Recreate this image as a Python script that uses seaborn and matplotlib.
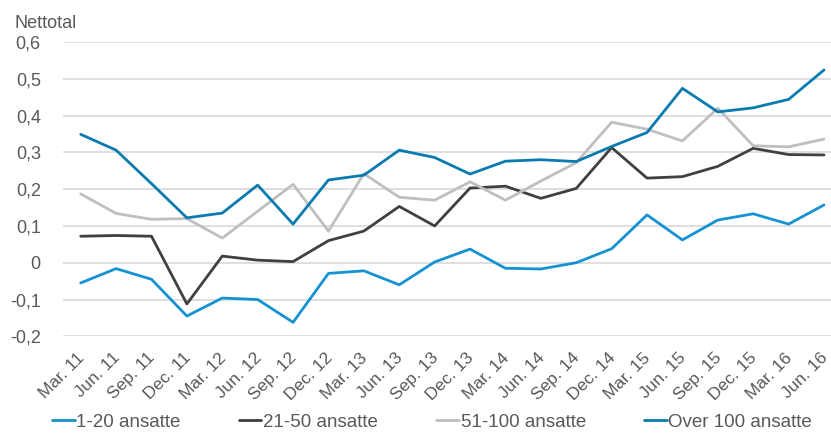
import matplotlib
matplotlib.use("Agg")
import matplotlib.pyplot as plt
import matplotlib.transforms as mtransforms
import seaborn as sns
import pandas as pd

quarters = ["Mar. 11", "Jun. 11", "Sep. 11", "Dec. 11",
            "Mar. 12", "Jun. 12", "Sep. 12", "Dec. 12",
            "Mar. 13", "Jun. 13", "Sep. 13", "Dec. 13",
            "Mar. 14", "Jun. 14", "Sep. 14", "Dec. 14",
            "Mar. 15", "Jun. 15", "Sep. 15", "Dec. 15",
            "Mar. 16", "Jun. 16"]

ansatte_1_20 = [-0.055, -0.016, -0.045, -0.145, -0.096, -0.100, -0.162, -0.029,
                -0.022, -0.060, 0.002, 0.037, -0.015, -0.017, 0.000, 0.038,
                0.130, 0.062, 0.116, 0.133, 0.105, 0.157]
ansatte_21_50 = [0.072, 0.074, 0.072, -0.112, 0.018, 0.007, 0.003, 0.060,
                 0.086, 0.153, 0.100, 0.203, 0.208, 0.175, 0.202, 0.313,
                 0.230, 0.234, 0.262, 0.311, 0.294, 0.293]
ansatte_51_100 = [0.187, 0.134, 0.118, 0.120, 0.067, 0.140, 0.213, 0.086,
                  0.242, 0.178, 0.170, 0.220, 0.170, 0.222, 0.272, 0.382,
                  0.363, 0.331, 0.420, 0.318, 0.315, 0.336]
ansatte_over_100 = [0.349, 0.306, 0.215, 0.122, 0.135, 0.211, 0.105, 0.225,
                    0.238, 0.306, 0.286, 0.241, 0.276, 0.280, 0.275, 0.316,
                    0.354, 0.474, 0.410, 0.421, 0.444, 0.524]

series_names = ["1-20 ansatte", "21-50 ansatte", "51-100 ansatte", "Over 100 ansatte"]
series_values = [ansatte_1_20, ansatte_21_50, ansatte_51_100, ansatte_over_100]
colors = ["#1592d2", "#404040", "#bfbfbf", "#0a7bb0"]

y_ticks = [-0.2, -0.1, 0.0, 0.1, 0.2, 0.3, 0.4, 0.5, 0.6]
y_labels = ["-0,2", "-0,1", "0", "0,1", "0,2", "0,3", "0,4", "0,5", "0,6"]

rows = []
for name, vals in zip(series_names, series_values):
    for i, v in enumerate(vals):
        rows.append({"pos": i, "Nettotal": v, "Gruppe": name})
df = pd.DataFrame(rows)

sns.set_theme(style="white")
plt.rcParams["font.family"] = ["Liberation Sans", "DejaVu Sans"]

fig = plt.figure(figsize=(8.31, 4.34), dpi=100)
ax = fig.add_axes([63 / 831, 1 - 336.3 / 434, 778.7 / 831, (336.3 - 42) / 434])

sns.lineplot(data=df, x="pos", y="Nettotal", hue="Gruppe",
             palette=dict(zip(series_names, colors)), hue_order=series_names,
             linewidth=2.0, ax=ax, legend=False)

ax.set_xlim(-0.5, len(quarters) - 0.5)
ax.set_ylim(-0.2, 0.6)
ax.set_yticks(y_ticks)
ax.set_yticklabels(y_labels)
ax.set_xticks(range(len(quarters)))
ax.set_xticklabels(quarters, rotation=45, ha="right", rotation_mode="anchor")
ax.tick_params(axis="y", labelsize=13, colors="#595959", length=0, pad=16)
ax.tick_params(axis="x", labelsize=12.5, colors="#595959", length=0, pad=10)
shift = mtransforms.ScaledTranslation(-4 / 100, 0, fig.dpi_scale_trans)
for lbl in ax.get_xticklabels():
    lbl.set_transform(lbl.get_transform() + shift)
ax.set_xlabel("")
ax.set_ylabel("")
ax.grid(axis="y", color="#d9d9d9", linewidth=1.2)
ax.grid(axis="x", visible=False)
ax.set_axisbelow(True)
for s in ax.spines.values():
    s.set_visible(False)

fig.text(15 / 831, 1 - 28 / 434, "Nettotal", fontsize=13, color="#595959",
         ha="left", va="baseline")

handles = [plt.Line2D([0], [0], color=c, linewidth=2.0) for c in colors]
fig.legend(handles, series_names, loc="center", bbox_to_anchor=(0.52, 0.027),
           ncol=4, frameon=False, fontsize=13.5, handlelength=1.2,
           handletextpad=0.1, columnspacing=3.1, labelcolor="#595959",
           borderpad=0)

fig.savefig("out.png", dpi=100)
